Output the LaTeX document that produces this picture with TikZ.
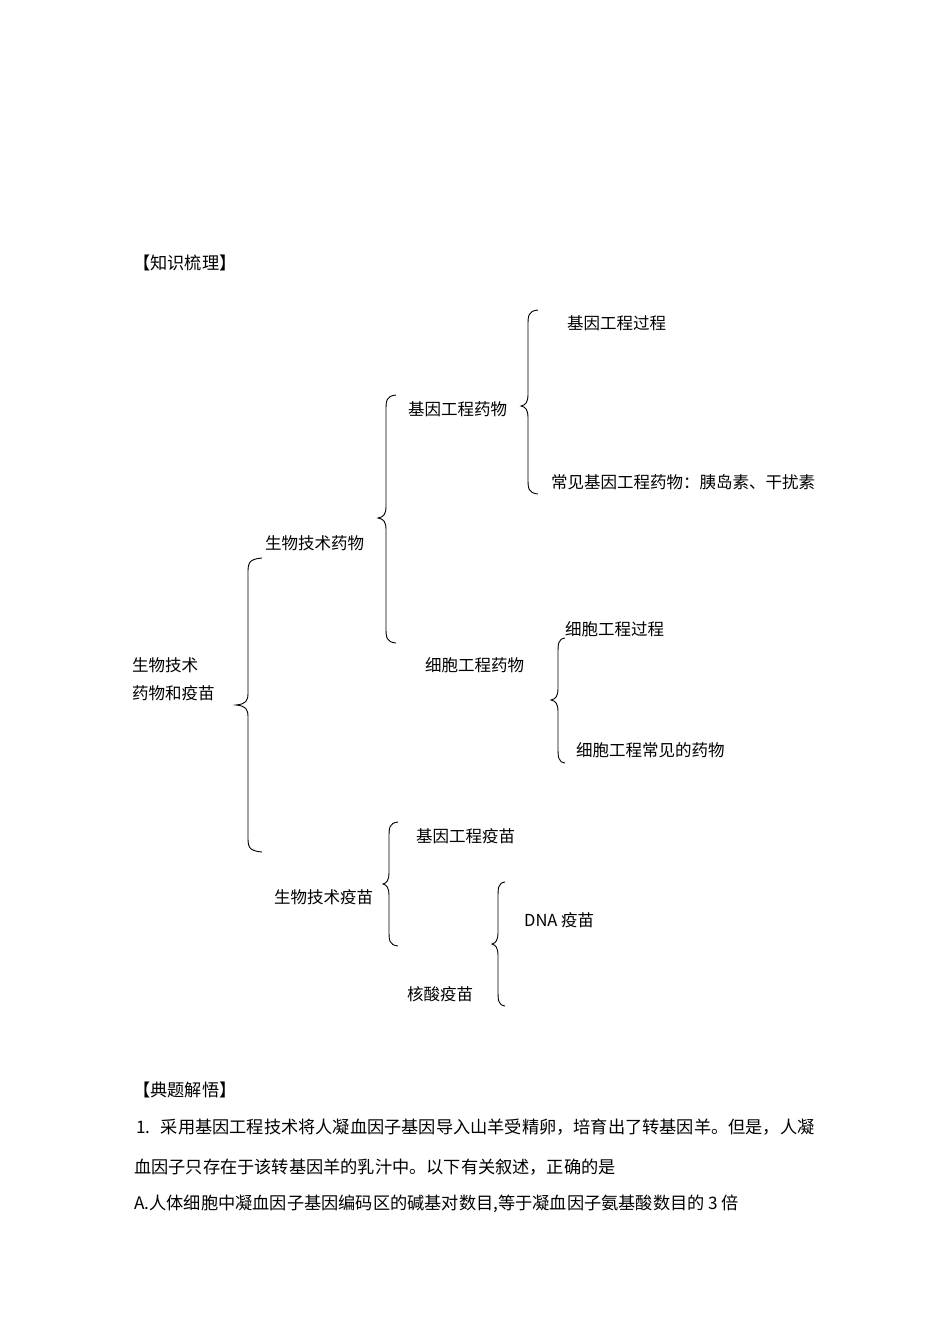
\documentclass[tikz,border=0pt]{standalone}
\usepackage{fontspec}
\setmainfont{Noto Sans CJK SC}
\begin{document}
\begin{tikzpicture}[x=1pt,y=-1pt,
  lbl/.style={anchor=west,inner sep=0pt,font=\fontsize{16.5}{18}\selectfont},
  para/.style={anchor=west,inner sep=0pt,font=\fontsize{17.2}{19}\selectfont},
  bracepath/.style={line width=0.9pt,black}]
\useasboundingbox[fill=white] (0,0) rectangle (950,1344);
% brace: top-end x, top y, vertical x, cusp x, cusp y, bottom y
\newcommand\kbrace[6]{%
  \draw[bracepath] (#1,#2) .. controls (#3,{#2+1}) and (#3,{#2+6}) .. (#3,{#2+16})
    -- (#3,{#5-12}) .. controls (#3,{#5-4}) and ({#3-2},{#5-1}) .. (#4,#5)
    .. controls ({#3-2},{#5+1}) and (#3,{#5+4}) .. (#3,{#5+12})
    -- (#3,{#6-16}) .. controls (#3,{#6-6}) and (#3,{#6-1}) .. (#1,#6);}
% headings
\node[para] (h1) at (133,263) {【知识梳理】};
% root
\node[lbl] (root1) at (132,665) {生物技术};
\node[lbl] (root2) at (132,693) {药物和疫苗};
\kbrace{262}{558}{248}{236}{705}{852}
% level 1
\node[lbl] (swyw) at (265,543) {生物技术药物};
\node[lbl] (swym) at (274,897) {生物技术疫苗};
\kbrace{396}{395}{386}{378}{518}{643}
% gene drugs
\node[lbl] (jyyw) at (408,409) {基因工程药物};
\kbrace{538}{310}{528}{521}{406}{494}
\node[lbl] (jygc) at (567,323) {基因工程过程};
\node[lbl] (cjyw) at (551,482) {常见基因工程药物：胰岛素、干扰素};
% cell drugs
\node[lbl] (xbyw) at (425,665) {细胞工程药物};
\kbrace{565}{638}{558}{551}{700}{763}
\node[lbl] (xbgc) at (565,629) {细胞工程过程};
\node[lbl] (xbcj) at (576,750) {细胞工程常见的药物};
% vaccines
\kbrace{398}{822}{389}{383}{884}{946}
\node[lbl] (jyym) at (416,836) {基因工程疫苗};
\node[lbl] (hsym) at (407,994) {核酸疫苗};
\kbrace{505}{882}{498}{492}{944}{1006}
\node[lbl] (dna) at (524,920) {DNA 疫苗};
% bottom text
\node[para] (h2) at (133,1090) {【典题解悟】};
\node[para] (q1) at (136,1127) {1.\hspace{0.6em}采用基因工程技术将人凝血因子基因导入山羊受精卵，培育出了转基因羊。但是，人凝};
\node[para] (q2) at (134,1167) {血因子只存在于该转基因羊的乳汁中。以下有关叙述，正确的是};
\node[para] (qa) at (134,1204) {A.人体细胞中凝血因子基因编码区的碱基对数目,等于凝血因子氨基酸数目的 3 倍};
\end{tikzpicture}
\end{document}
